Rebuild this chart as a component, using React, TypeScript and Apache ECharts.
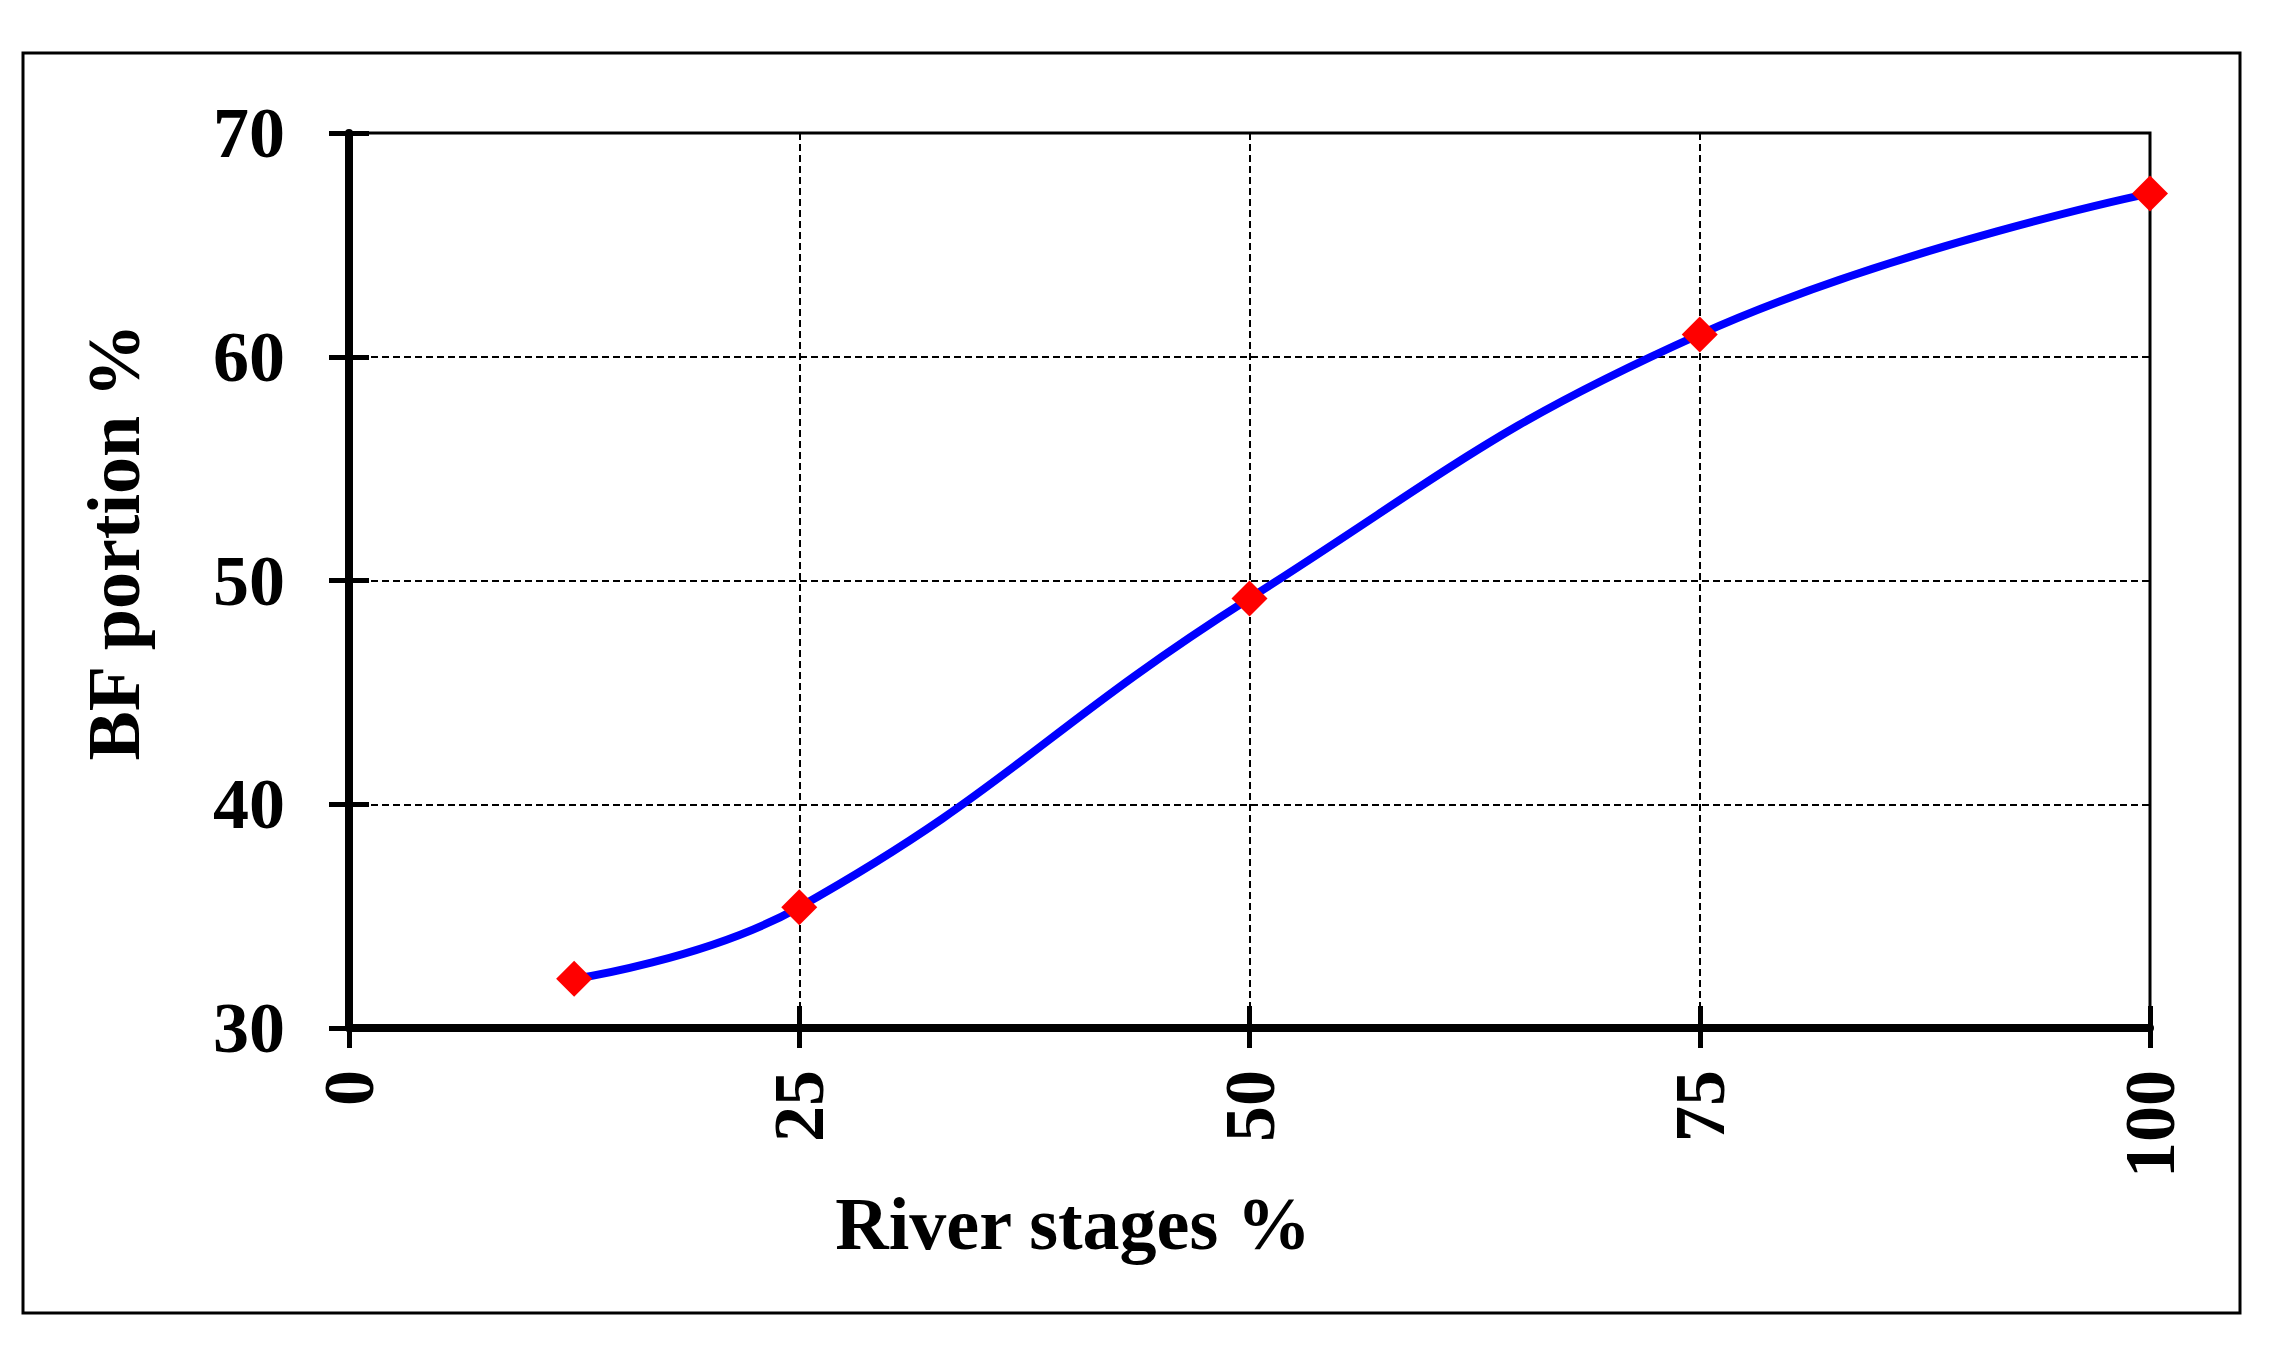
import React, { useEffect, useRef } from 'react';
import * as echarts from 'echarts';

// River stage (%) vs BF portion (%)
const riverStages = [12.5, 25, 50, 75, 100];
const bfPortion = [32.2, 35.4, 49.2, 61.0, 67.3];

const xTitle = 'River stages %';
const yTitle = 'BF portion %';

const FONT = '"Liberation Serif", "Times New Roman", serif';

const App: React.FC = () => {
    const chartRef = useRef<HTMLDivElement>(null);

    useEffect(() => {
        if (!chartRef.current) return;
        document.body.style.margin = '0';
        document.body.style.overflow = 'hidden';

        const chart = echarts.init(chartRef.current, undefined, { renderer: 'svg' });

        const labelStyle = { color: '#000', fontFamily: FONT, fontWeight: 'bold' as const, fontSize: 72 };

        const option: echarts.EChartsOption = {
            animation: false,
            backgroundColor: '#fff',
            grid: {
                left: 349, right: 130, top: 133, bottom: 320,
                show: true, borderColor: '#000', borderWidth: 3, backgroundColor: 'transparent'
            },
            xAxis: [
                {
                    type: 'value', min: 0, max: 100, interval: 25, position: 'bottom',
                    axisLine: { show: true, onZero: false, lineStyle: { color: '#000', width: 8 } },
                    axisTick: { show: true, inside: false, length: 20, lineStyle: { color: '#000', width: 5 } },
                    axisLabel: { ...labelStyle, rotate: 90, margin: 42 },
                    splitLine: { show: true, lineStyle: { color: '#000', width: 2, type: [7, 4] } }
                },
                {
                    type: 'value', min: 0, max: 100, interval: 25, position: 'bottom',
                    axisLine: { show: false, onZero: false },
                    axisTick: { show: true, inside: true, length: 22, lineStyle: { color: '#000', width: 5 } },
                    axisLabel: { show: false },
                    splitLine: { show: false }
                }
            ],
            yAxis: [
                {
                    type: 'value', min: 30, max: 70, interval: 10, position: 'left',
                    axisLine: { show: true, onZero: false, lineStyle: { color: '#000', width: 8 } },
                    axisTick: { show: true, inside: false, length: 20, lineStyle: { color: '#000', width: 5 } },
                    axisLabel: { ...labelStyle, margin: 64 },
                    splitLine: { show: true, lineStyle: { color: '#000', width: 2, type: [7, 4] } }
                },
                {
                    type: 'value', min: 30, max: 70, interval: 10, position: 'left',
                    axisLine: { show: false, onZero: false },
                    axisTick: { show: true, inside: true, length: 20, lineStyle: { color: '#000', width: 5 } },
                    axisLabel: { show: false },
                    splitLine: { show: false }
                }
            ],
            graphic: [
                {
                    type: 'rect',
                    shape: { x: 23, y: 53, width: 2217, height: 1260 },
                    style: { fill: 'none', stroke: '#000', lineWidth: 3 },
                    silent: true
                },
                {
                    type: 'text',
                    x: 1073, y: 1224,
                    style: {
                        text: xTitle, fill: '#000', font: `bold 74px ${FONT}`,
                        textAlign: 'center', textVerticalAlign: 'middle'
                    }
                },
                {
                    type: 'text',
                    x: 114, y: 542, rotation: Math.PI / 2,
                    style: {
                        text: yTitle, fill: '#000', font: `bold 74px ${FONT}`,
                        textAlign: 'center', textVerticalAlign: 'middle'
                    }
                }
            ],
            series: [
                {
                    type: 'line',
                    data: riverStages.map((x, i) => [x, bfPortion[i]]),
                    smooth: 0.45,
                    xAxisIndex: 0,
                    yAxisIndex: 0,
                    symbol: 'diamond',
                    symbolSize: 36,
                    itemStyle: { color: '#ff0000' },
                    lineStyle: { color: '#0000ff', width: 8 },
                    z: 5
                }
            ]
        };

        chart.setOption(option);
        return () => chart.dispose();
    }, []);

    return <div ref={chartRef} style={{ width: '2280px', height: '1348px' }} />;
};

export default App;
